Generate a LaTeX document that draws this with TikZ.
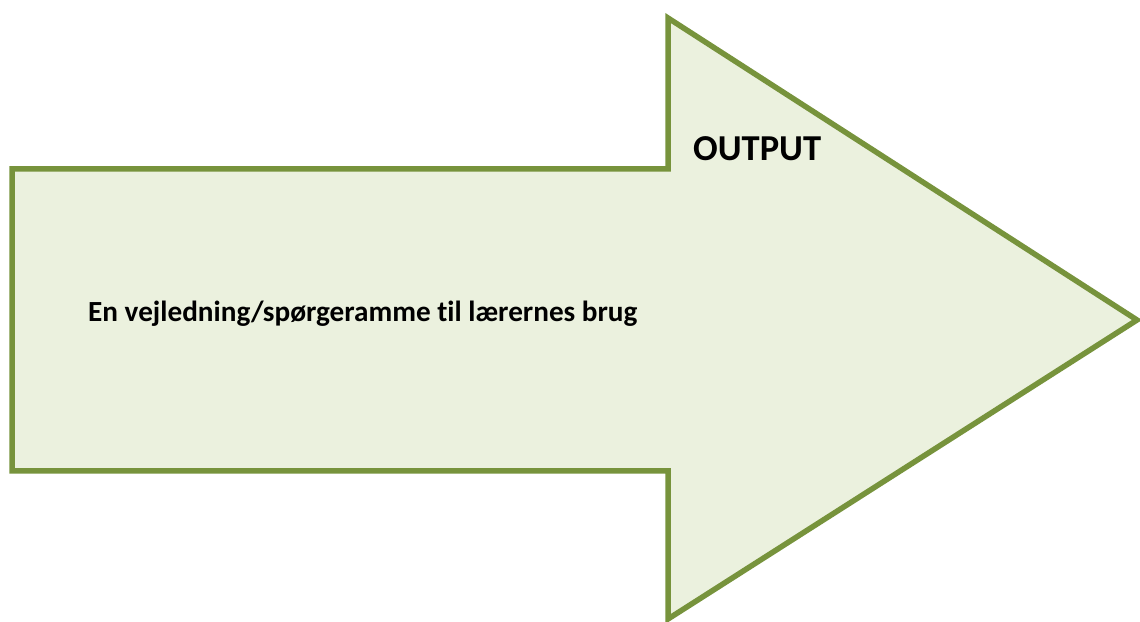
\documentclass[tikz,border=0pt]{standalone}
\usepackage{fontspec}
\setmainfont[Ligatures=NoCommon]{Carlito}
\definecolor{arrowfill}{HTML}{EBF1DE}
\definecolor{arrowline}{HTML}{77933C}
\begin{document}
\begin{tikzpicture}[x=1pt,y=1pt,
  arrowshape/.style={fill=arrowfill,draw=arrowline,line width=5.5pt,line join=miter},
  lbl/.style={font=\bfseries,text=black,inner sep=0pt}]
\useasboundingbox (0,0) rectangle (1140,621);
\begin{scope}
\clip (0,0) rectangle (1140,621);
\draw[arrowshape] (12,452) -- (668,452) -- (668,603) -- (1137,301) -- (668,2) -- (668,150) -- (12,150) -- cycle;
\end{scope}
\node[lbl,anchor=west,font=\bfseries\fontsize{36.5}{44}\selectfont] (out) at (693,472) {OUTPUT};
\node[lbl,anchor=west,font=\bfseries\fontsize{29.2}{35}\selectfont] (txt) at (88,307) {En vejledning/spørgeramme til lærernes brug};
\end{tikzpicture}
\end{document}
